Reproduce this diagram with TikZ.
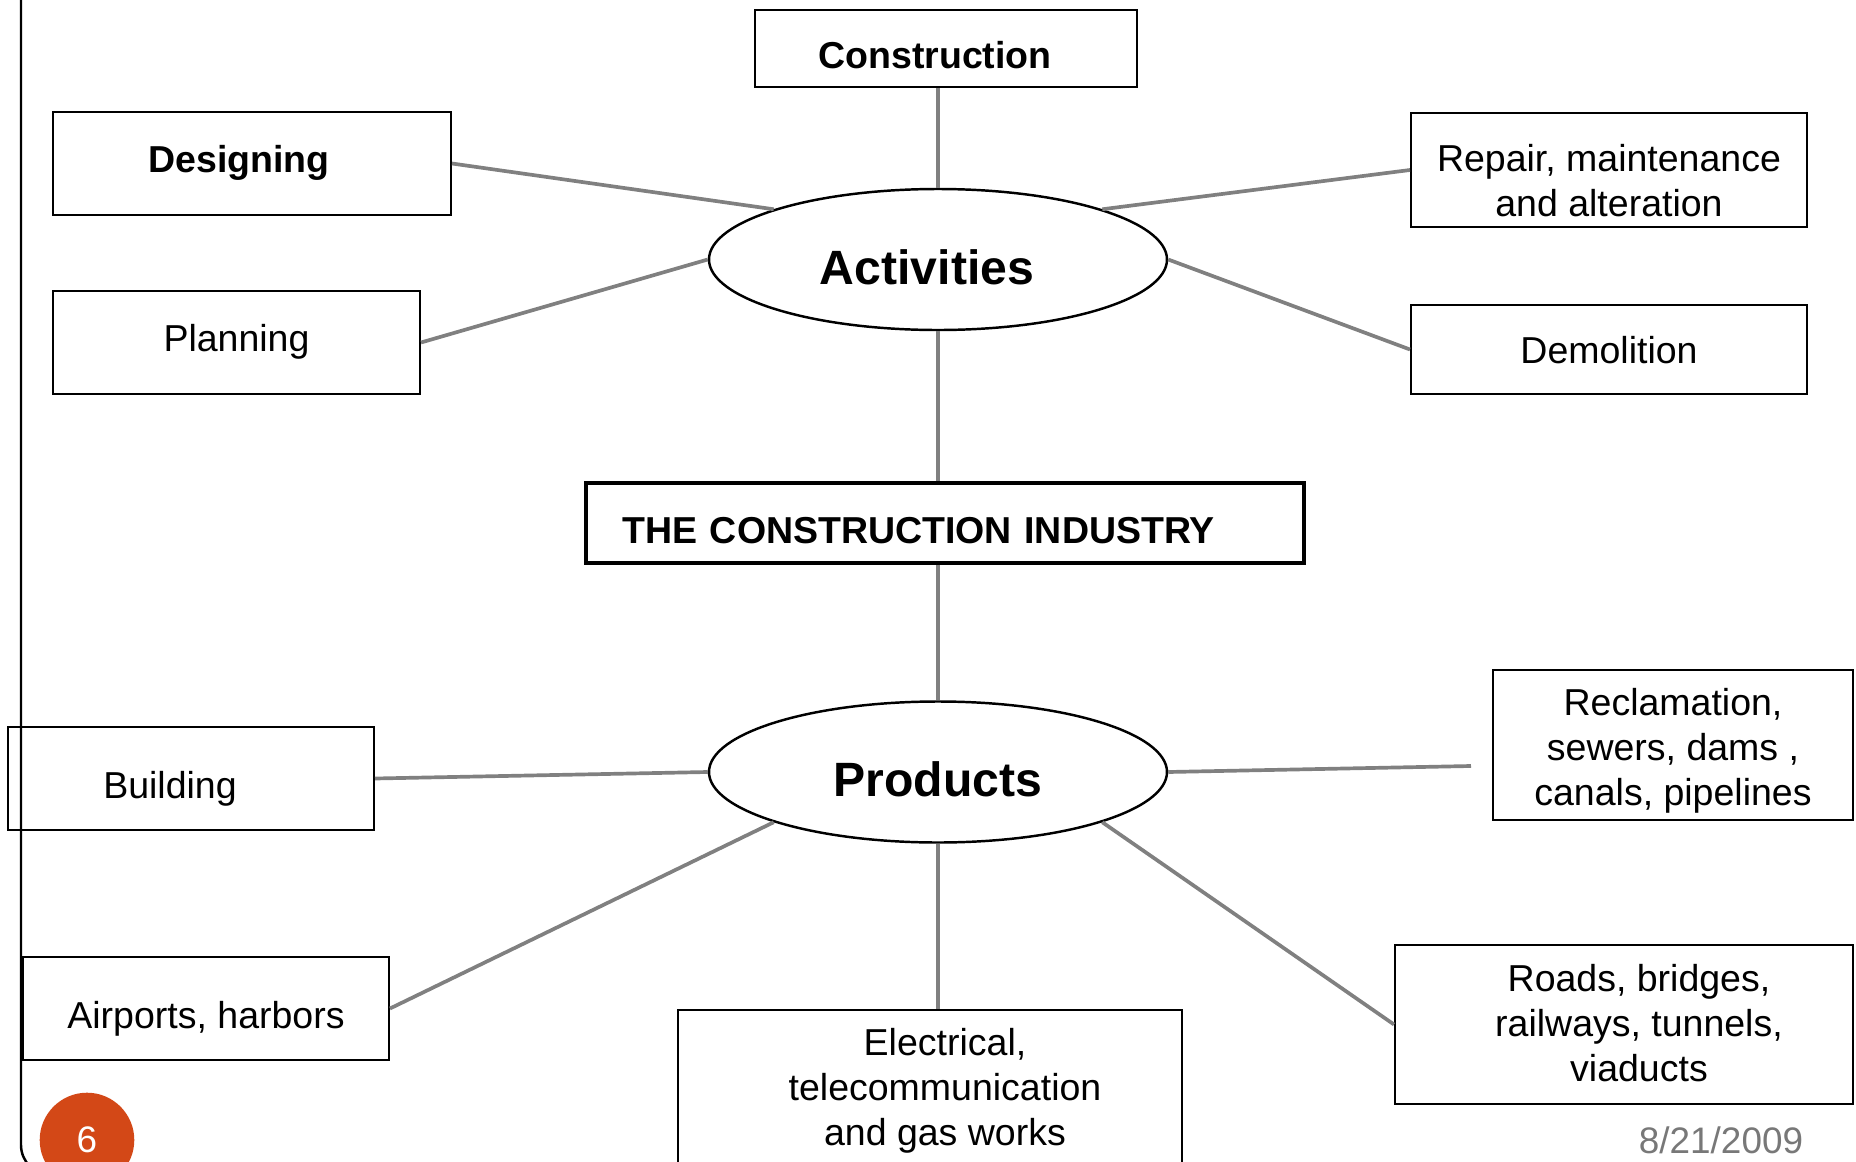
\documentclass[tikz,border=0pt]{standalone}
\usepackage{fontspec}
\setmainfont{Liberation Sans}
\usetikzlibrary{shapes.geometric}

\definecolor{linkgray}{RGB}{128,128,128}
\definecolor{dategray}{RGB}{120,120,120}
\definecolor{slideorange}{RGB}{211,72,23}

\newcommand{\boxfont}{\fontsize{10.67pt}{12.8pt}\selectfont}
\newcommand{\ovalfont}{\fontsize{13.7pt}{16pt}\selectfont\bfseries}

\begin{document}
\begin{tikzpicture}[x=0.1mm,y=-0.1mm]

        \useasboundingbox (0,0) rectangle (1856,1162);

        % slide frame
        \draw[line width=0.7pt,rounded corners=3mm] (21,-10) -- (21,1175) -- (300,1175);

        \begin{scope}[every node/.style={draw,rectangle,inner sep=0pt,line width=0.57pt,font=\boxfont,align=center}]
          \node (cons) at (946,48.5)   [minimum width=38.2mm,text height=5.83mm,text depth=1.87mm,font=\boxfont\bfseries] {Construction\hspace*{2.2mm}};
          \node (des)  at (252,163.5)  [minimum width=39.8mm,text height=6mm,text depth=4.3mm,font=\boxfont\bfseries] {Designing\hspace*{2.6mm}};
          \node (plan) at (236.5,342.5) [minimum width=36.7mm,text height=6.07mm,text depth=4.23mm] {Planning};
          \node (rep)  at (1609,170)   [minimum width=39.6mm,text height=10.3mm,text depth=1.1mm] {Repair, maintenance\\and alteration};
          \node (dem)  at (1609,349.5) [minimum width=39.6mm,text height=5.83mm,text depth=3.07mm] {Demolition};

          \node (ind)  at (945,523)    [minimum width=71.8mm,text width=64.5mm,align=left,text height=6.03mm,text depth=1.97mm,line width=1.14pt,font=\boxfont\bfseries] {THE CONSTRUCTION INDUSTRY};

          \node (bld)  at (191,778.5)  [minimum width=36.6mm,text height=7.13mm,text depth=3.17mm] {Building\hspace*{4.2mm}};
          \node (recl) at (1673,745)   [minimum width=36mm,text height=13.5mm,text depth=1.5mm] {Reclamation,\\sewers, dams ,\\canals, pipelines};
          \node (air)  at (206,1008.5) [minimum width=36.6mm,text height=7.13mm,text depth=3.17mm] {Airports, harbors};
          \node (elec) at (930,1100)   [minimum width=50.4mm,text height=13.5mm,text depth=4.5mm] {\hspace*{3mm}Electrical,\\\hspace*{3mm}telecommunication\\\hspace*{3mm}and gas works};
          \node (road) at (1624,1024.5) [minimum width=45.8mm,text height=13.6mm,text depth=2.3mm] {\hspace*{3mm}Roads, bridges,\\\hspace*{3mm}railways, tunnels,\\\hspace*{3mm}viaducts};
        \end{scope}

        \begin{scope}[every node/.style={draw,ellipse,inner sep=0pt,line width=0.7pt,minimum width=45.8mm,minimum height=14.1mm,text height=6mm,text depth=1.1mm,font=\ovalfont}]
          \node (act)  at (938,259.5) {Activities\hspace*{2.2mm}};
          \node (prod) at (938,772)   {Products};
        \end{scope}

        \coordinate (reclend) at (1471,766);

        \begin{scope}[every edge/.style={draw=linkgray,line width=1.05pt}]
          \path (act.north) edge (act.north |- cons.south);
          \path (des.east)  edge (act.163);
          \path (plan.east) edge (act.west);
          \path (rep.west)  edge (act.17);
          \path (dem.west)  edge (act.east);
          \path (act.south) edge (act.south |- ind.north);
          \path (prod.north |- ind.south) edge (prod.north);
          \path (prod.west) edge (bld.east);
          \path (prod.east) edge (reclend);
          \path (prod.197)  edge (air.east);
          \path (prod.south) edge (prod.south |- elec.north);
          \path (prod.343)  edge (road.west);
        \end{scope}

        \node (slidenum) at (87,1140) [circle,fill=slideorange,minimum size=9.46mm,inner sep=0pt,text=white,font=\fontsize{10.5pt}{12pt}\selectfont] {6};
        \node (date) at (1721,1140) [text=dategray,font=\fontsize{10.5pt}{12pt}\selectfont] {8/21/2009};

      \end{tikzpicture}
\end{document}
